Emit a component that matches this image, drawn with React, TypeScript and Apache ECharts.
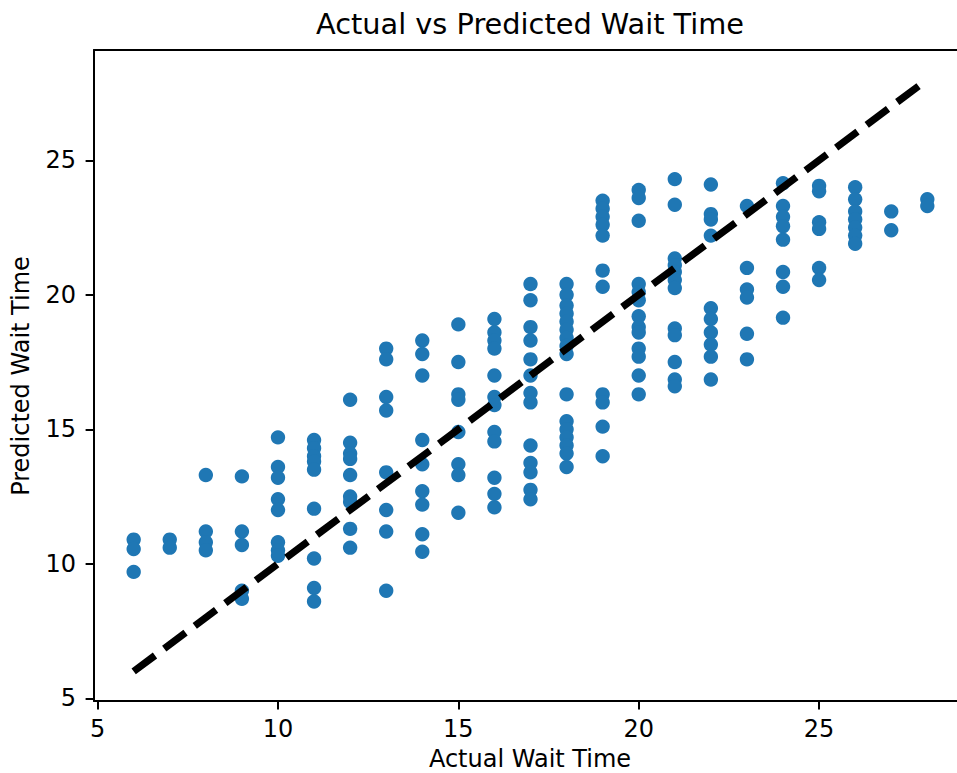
import React, { useEffect, useRef } from "react";
import * as echarts from "echarts";

// Actual wait time (x) for each column of points
const actualWait: number[] = [6, 7, 8, 9, 10, 11, 12, 13, 14, 15, 16, 17, 18, 19, 20, 21, 22, 23, 24, 25, 26, 27, 28];

// Predicted wait times observed at each actual wait time (same order as actualWait)
const predictedByActual: number[][] = [
  [10.9, 10.55, 9.7],
  [10.9, 10.6],
  [13.3, 11.2, 10.8, 10.5],
  [13.25, 11.2, 10.7, 9.0, 8.7],
  [14.7, 13.6, 13.2, 12.4, 12.0, 10.8, 10.5, 10.3],
  [14.6, 14.3, 14.0, 13.8, 13.5, 12.05, 10.2, 9.1, 8.6],
  [16.1, 14.5, 14.1, 13.9, 13.3, 12.5, 12.3, 11.3, 10.6],
  [18.0, 17.6, 16.2, 15.7, 13.4, 12.0, 11.2, 9.0],
  [18.3, 17.8, 17.0, 14.6, 13.7, 12.7, 12.2, 11.1, 10.45],
  [18.9, 17.5, 16.3, 16.1, 14.9, 13.7, 13.3, 11.9],
  [19.1, 18.6, 18.3, 18.0, 17.0, 16.2, 15.9, 14.9, 14.55, 13.2, 12.6, 12.1],
  [20.4, 19.8, 18.8, 18.3, 17.6, 17.0, 16.35, 16.0, 14.4, 13.75, 13.4, 12.75, 12.4],
  [20.4, 20.0, 19.6, 19.3, 19.0, 18.7, 18.4, 18.1, 17.8, 16.3, 15.3, 15.0, 14.7, 14.4, 14.1, 13.6],
  [23.5, 23.2, 22.9, 22.6, 22.2, 20.9, 20.3, 16.3, 16.0, 15.1, 14.0],
  [23.9, 23.6, 22.75, 20.4, 20.1, 19.8, 19.2, 18.8, 18.6, 18.0, 17.7, 17.0, 16.3],
  [24.3, 23.35, 21.35, 21.1, 20.85, 20.55, 20.25, 18.75, 18.5, 17.5, 16.85, 16.6],
  [24.1, 23.0, 22.8, 22.2, 19.5, 19.1, 18.6, 18.15, 17.7, 16.85],
  [23.3, 21.0, 20.2, 19.9, 18.55, 17.6],
  [24.15, 23.3, 22.9, 22.55, 22.05, 20.85, 20.3, 19.15],
  [24.05, 23.85, 22.7, 22.45, 21.0, 20.55],
  [24.0, 23.55, 23.1, 22.8, 22.5, 22.2, 21.9],
  [23.1, 22.4],
  [23.55, 23.3],
];

// Ideal-fit reference line endpoints
const lineMin = 6;
const lineMax = 28;

// Axis ticks
const xTicks: number[] = [5, 10, 15, 20, 25];
const yTicks: number[] = [5, 10, 15, 20, 25];

const titleText = "Actual vs Predicted Wait Time";
const xLabel = "Actual Wait Time";
const yLabel = "Predicted Wait Time";

const FONT = "DejaVu Sans";

export default function App() {
  const ref = useRef<HTMLDivElement>(null);

  useEffect(() => {
    if (!ref.current) return;
    const chart = echarts.init(ref.current, undefined, { renderer: "svg" });

    const points: number[][] = [];
    actualWait.forEach((x, i) => {
      predictedByActual[i].forEach((y) => points.push([x, y]));
    });

    const spine = { show: true, lineStyle: { color: "#000", width: 2 } };
    const tick = { show: true, length: 8.4, lineStyle: { color: "#000", width: 2 } };
    const label = {
      color: "#000",
      fontSize: 24,
      fontFamily: FONT,
      showMinLabel: true,
      showMaxLabel: true,
    };

    chart.setOption({
      animation: false,
      backgroundColor: "#fff",
      grid: {
        left: 94,
        top: 50,
        width: 873,
        height: 651,
        outerBoundsMode: "none",
        containLabel: false,
        show: false,
      },
      xAxis: [
        {
          type: "value",
          position: "bottom",
          min: 4.9,
          max: 29.1,
          splitLine: { show: false },
          axisLine: spine,
          axisTick: { ...tick, customValues: xTicks },
          axisLabel: { ...label, customValues: xTicks, margin: 16 },
        },
        {
          type: "value",
          position: "top",
          min: 4.9,
          max: 29.1,
          splitLine: { show: false },
          axisLine: spine,
          axisTick: { show: false },
          axisLabel: { show: false },
        },
      ],
      yAxis: [
        {
          type: "value",
          position: "left",
          min: 4.9,
          max: 29.1,
          splitLine: { show: false },
          axisLine: spine,
          axisTick: { ...tick, customValues: yTicks },
          axisLabel: { ...label, customValues: yTicks, margin: 18 },
        },
        {
          type: "value",
          position: "right",
          min: 4.9,
          max: 29.1,
          splitLine: { show: false },
          axisLine: spine,
          axisTick: { show: false },
          axisLabel: { show: false },
        },
      ],
      graphic: [
        {
          type: "text",
          x: 530,
          y: 24,
          style: {
            text: titleText,
            fontSize: 28.8,
            fontFamily: FONT,
            fill: "#000",
            align: "center",
            verticalAlign: "middle",
          },
        },
        {
          type: "text",
          x: 530,
          y: 759,
          style: {
            text: xLabel,
            fontSize: 24,
            fontFamily: FONT,
            fill: "#000",
            align: "center",
            verticalAlign: "middle",
          },
        },
        {
          type: "text",
          x: 21,
          y: 376,
          rotation: Math.PI / 2,
          style: {
            text: yLabel,
            fontSize: 24,
            fontFamily: FONT,
            fill: "#000",
            align: "center",
            verticalAlign: "middle",
          },
        },
      ],
      series: [
        {
          type: "scatter",
          xAxisIndex: 0,
          yAxisIndex: 0,
          data: points,
          symbol: "circle",
          symbolSize: 14.4,
          itemStyle: { color: "#1f77b4", opacity: 1 },
          z: 2,
        },
        {
          type: "line",
          xAxisIndex: 0,
          yAxisIndex: 0,
          data: [
            [lineMin, lineMin],
            [lineMax, lineMax],
          ],
          symbol: "none",
          lineStyle: { color: "#000", width: 7.2, type: [26.6, 11.5], cap: "butt" },
          z: 3,
        },
      ],
    });

    return () => chart.dispose();
  }, []);

  return (
    <div
      ref={ref}
      style={{ position: "absolute", left: 0, top: 0, width: 957, height: 773 }}
    />
  );
}
